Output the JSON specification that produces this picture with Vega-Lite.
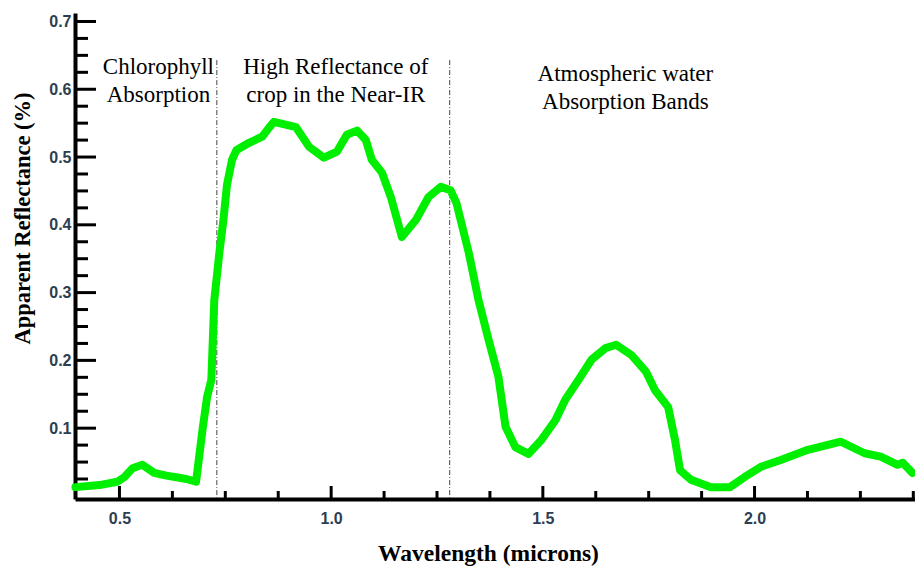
{
  "$schema": "https://vega.github.io/schema/vega-lite/v6.json",
  "width": 840,
  "height": 486,
  "autosize": {"type": "none"},
  "padding": {"left": 75, "top": 13, "right": 0, "bottom": 67},
  "background": "white",
  "config": {"view": {"stroke": null}},
  "resolve": {"axis": {"x": "independent", "y": "independent"}},
  "layer": [
    {
      "data": {"values": [
        {"wl": 0.73, "r": 0.643, "r2": -0.0045},
        {"wl": 1.28, "r": 0.643, "r2": -0.0045}
      ]},
      "mark": {"type": "rule", "color": "#444444", "strokeWidth": 1, "strokeDash": [5, 2, 1, 2]},
      "encoding": {
        "x": {"field": "wl", "type": "quantitative", "axis": null},
        "y": {"field": "r", "type": "quantitative", "axis": null},
        "y2": {"field": "r2"}
      }
    },
    {
      "data": {"values": [
        {"label": "Chlorophyll\nAbsorption", "wl": 0.592, "r": 0.623},
        {"label": "High Reflectance of\ncrop in the Near-IR", "wl": 1.011, "r": 0.623},
        {"label": "Atmospheric water\nAbsorption Bands", "wl": 1.695, "r": 0.612}
      ]},
      "mark": {"type": "text", "font": "Liberation Serif", "fontSize": 23, "lineHeight": 28, "lineBreak": "\n", "align": "center", "baseline": "alphabetic", "color": "black"},
      "encoding": {
        "x": {"field": "wl", "type": "quantitative", "axis": null},
        "y": {"field": "r", "type": "quantitative", "axis": null},
        "text": {"field": "label"}
      }
    },
    {
      "data": {"values": [
        {"wl": 0.625}, {"wl": 0.75}, {"wl": 0.875}, {"wl": 1.125}, {"wl": 1.25}, {"wl": 1.375},
        {"wl": 1.625}, {"wl": 1.75}, {"wl": 1.875}, {"wl": 2.125}, {"wl": 2.25}, {"wl": 2.375}
      ]},
      "mark": {"type": "tick", "orient": "vertical", "size": 8, "thickness": 3, "color": "black", "opacity": 1, "yOffset": -4},
      "encoding": {
        "x": {"field": "wl", "type": "quantitative", "axis": null},
        "y": {"datum": -0.0045, "type": "quantitative", "axis": null}
      }
    },
    {
      "data": {"values": [{"wl": 0.5}, {"wl": 1.0}, {"wl": 1.5}, {"wl": 2.0}]},
      "mark": {"type": "tick", "orient": "vertical", "size": 13, "thickness": 3, "color": "black", "opacity": 1, "yOffset": -6.5},
      "encoding": {
        "x": {"field": "wl", "type": "quantitative", "axis": null},
        "y": {"datum": -0.0045, "type": "quantitative", "axis": null}
      }
    },
    {
      "data": {"values": [
        {"r": 0.025}, {"r": 0.05}, {"r": 0.075}, {"r": 0.125}, {"r": 0.15}, {"r": 0.175},
        {"r": 0.225}, {"r": 0.25}, {"r": 0.275}, {"r": 0.325}, {"r": 0.35}, {"r": 0.375},
        {"r": 0.425}, {"r": 0.45}, {"r": 0.475}, {"r": 0.525}, {"r": 0.55}, {"r": 0.575},
        {"r": 0.625}, {"r": 0.65}, {"r": 0.675}
      ]},
      "mark": {"type": "tick", "orient": "horizontal", "size": 13, "thickness": 3, "color": "black", "opacity": 1, "xOffset": 6.5},
      "encoding": {
        "x": {"datum": 0.395, "type": "quantitative", "axis": null},
        "y": {"field": "r", "type": "quantitative", "axis": null}
      }
    },
    {
      "data": {"values": [{"r": 0.1}, {"r": 0.2}, {"r": 0.3}, {"r": 0.4}, {"r": 0.5}, {"r": 0.6}, {"r": 0.7}]},
      "mark": {"type": "tick", "orient": "horizontal", "size": 21, "thickness": 3, "color": "black", "opacity": 1, "xOffset": 10.5},
      "encoding": {
        "x": {"datum": 0.395, "type": "quantitative", "axis": null},
        "y": {"field": "r", "type": "quantitative", "axis": null}
      }
    },
    {
      "data": {"values": [
        {"wl": 0.396, "r": 0.013}, {"wl": 0.453, "r": 0.016}, {"wl": 0.495, "r": 0.021},
        {"wl": 0.512, "r": 0.028}, {"wl": 0.531, "r": 0.041}, {"wl": 0.554, "r": 0.046},
        {"wl": 0.582, "r": 0.034}, {"wl": 0.611, "r": 0.030}, {"wl": 0.658, "r": 0.025},
        {"wl": 0.681, "r": 0.021}, {"wl": 0.696, "r": 0.097}, {"wl": 0.707, "r": 0.146},
        {"wl": 0.717, "r": 0.171}, {"wl": 0.724, "r": 0.289}, {"wl": 0.736, "r": 0.359},
        {"wl": 0.745, "r": 0.404}, {"wl": 0.754, "r": 0.459}, {"wl": 0.766, "r": 0.496},
        {"wl": 0.776, "r": 0.510}, {"wl": 0.806, "r": 0.521}, {"wl": 0.837, "r": 0.530},
        {"wl": 0.853, "r": 0.543}, {"wl": 0.865, "r": 0.552}, {"wl": 0.917, "r": 0.544},
        {"wl": 0.948, "r": 0.515}, {"wl": 0.983, "r": 0.499}, {"wl": 1.014, "r": 0.508},
        {"wl": 1.037, "r": 0.533}, {"wl": 1.061, "r": 0.539}, {"wl": 1.082, "r": 0.525},
        {"wl": 1.096, "r": 0.496}, {"wl": 1.120, "r": 0.477}, {"wl": 1.141, "r": 0.441},
        {"wl": 1.167, "r": 0.382}, {"wl": 1.200, "r": 0.407}, {"wl": 1.230, "r": 0.441},
        {"wl": 1.259, "r": 0.456}, {"wl": 1.282, "r": 0.451}, {"wl": 1.296, "r": 0.432},
        {"wl": 1.325, "r": 0.359}, {"wl": 1.348, "r": 0.289}, {"wl": 1.372, "r": 0.230},
        {"wl": 1.395, "r": 0.176}, {"wl": 1.412, "r": 0.102}, {"wl": 1.435, "r": 0.072},
        {"wl": 1.466, "r": 0.062}, {"wl": 1.497, "r": 0.083}, {"wl": 1.530, "r": 0.112},
        {"wl": 1.553, "r": 0.142}, {"wl": 1.584, "r": 0.171}, {"wl": 1.615, "r": 0.201},
        {"wl": 1.648, "r": 0.218}, {"wl": 1.673, "r": 0.223}, {"wl": 1.709, "r": 0.208},
        {"wl": 1.744, "r": 0.183}, {"wl": 1.765, "r": 0.156}, {"wl": 1.796, "r": 0.131},
        {"wl": 1.812, "r": 0.083}, {"wl": 1.824, "r": 0.038}, {"wl": 1.850, "r": 0.024},
        {"wl": 1.897, "r": 0.013}, {"wl": 1.942, "r": 0.013}, {"wl": 1.977, "r": 0.028},
        {"wl": 2.015, "r": 0.043}, {"wl": 2.062, "r": 0.053}, {"wl": 2.126, "r": 0.068},
        {"wl": 2.204, "r": 0.080}, {"wl": 2.260, "r": 0.063}, {"wl": 2.298, "r": 0.058},
        {"wl": 2.338, "r": 0.046}, {"wl": 2.350, "r": 0.049}, {"wl": 2.373, "r": 0.034}
      ]},
      "mark": {"type": "line", "color": "#00ee00", "strokeWidth": 8, "strokeCap": "round", "strokeJoin": "round"},
      "encoding": {
        "x": {
          "field": "wl", "type": "quantitative",
          "scale": {"domain": [0.395, 2.379], "nice": false, "zero": false},
          "axis": {
            "orient": "bottom",
            "title": "Wavelength (microns)",
            "values": [0.5, 1, 1.5, 2],
            "format": ".1f",
            "grid": false,
            "domainColor": "black", "domainWidth": 4,
            "ticks": false,
            "labelPadding": 11,
            "labelFont": "Liberation Sans", "labelFontWeight": "bold", "labelFontSize": 16, "labelColor": "#2c3e50",
            "labelFlush": false, "labelOverlap": false, "labelBound": false,
            "titleFont": "Liberation Serif", "titleFontSize": 23.5, "titleFontWeight": "bold", "titleColor": "black",
            "titleX": 413, "titleY": 61, "titleBaseline": "alphabetic", "titleAlign": "center"
          }
        },
        "y": {
          "field": "r", "type": "quantitative",
          "scale": {"domain": [-0.0045, 0.7125], "nice": false, "zero": false},
          "axis": {
            "orient": "left",
            "title": "Apparent Reflectance (%)",
            "values": [0.1, 0.2, 0.3, 0.4, 0.5, 0.6, 0.7],
            "format": ".1f",
            "grid": false,
            "domainColor": "black", "domainWidth": 4,
            "ticks": false,
            "labelPadding": 4,
            "labelFont": "Liberation Sans", "labelFontWeight": "bold", "labelFontSize": 16, "labelColor": "#2c3e50",
            "labelFlush": false, "labelOverlap": false, "labelBound": false,
            "titleFont": "Liberation Serif", "titleFontSize": 22.5, "titleFontWeight": "bold", "titleColor": "black",
            "titleX": -53, "titleY": 205, "titleAngle": -90, "titleBaseline": "middle", "titleAlign": "center"
          }
        }
      }
    }
  ]
}
